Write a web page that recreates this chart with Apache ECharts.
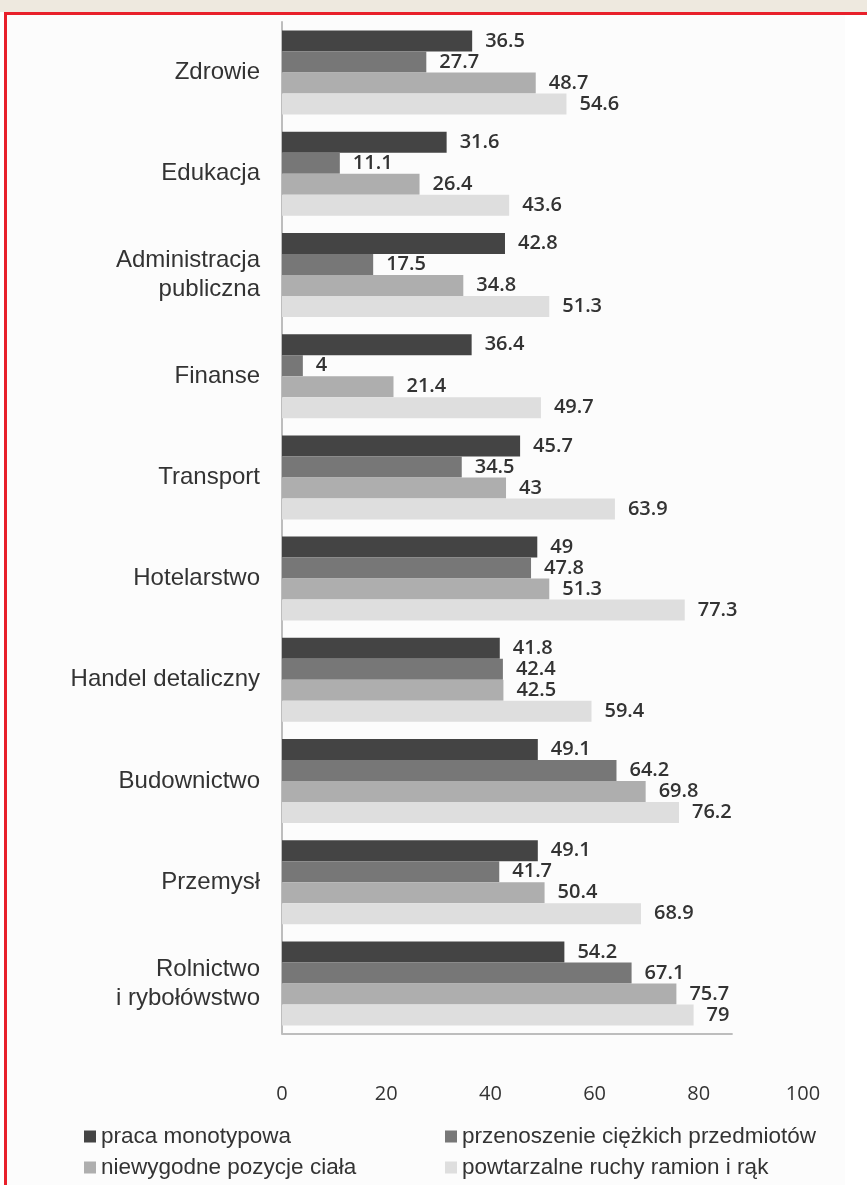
<!DOCTYPE html>
<html>
<head>
<meta charset="utf-8">
<script src="https://cdn.jsdelivr.net/npm/echarts@6/dist/echarts.min.js"></script>
<style>
  html, body { margin:0; padding:0; background:#ffffff; }
  #wrap { position:relative; width:867px; height:1185px; overflow:hidden; }
  #band { position:absolute; left:0; top:0; width:867px; height:12px; background:#eee9df; }
  #panel { position:absolute; left:4px; top:12px; width:841px; height:1173px; background:#fcfcfc;
           border-top:3px solid #e8202a; border-left:3px solid #e8202a; box-sizing:border-box; }
  #redtop { position:absolute; left:4px; top:12px; width:863px; height:3px; background:#e8202a; }
  #chart { position:absolute; left:0; top:0; width:867px; height:1185px; }
</style>
</head>
<body>
<div id="wrap">
  <div id="band"></div>
  <div id="panel"></div>
  <div id="redtop"></div>
  <div id="chart"></div>
</div>
<script>
const categories = ['Zdrowie', 'Edukacja', 'Administracja\npubliczna', 'Finanse', 'Transport',
  'Hotelarstwo', 'Handel detaliczny', 'Budownictwo', 'Przemysł', 'Rolnictwo\ni rybołówstwo'];
const seriesNames = ['praca monotypowa', 'przenoszenie ciężkich przedmiotów',
  'niewygodne pozycje ciała', 'powtarzalne ruchy ramion i rąk'];
const pracaMonotypowa = [36.5, 31.6, 42.8, 36.4, 45.7, 49, 41.8, 49.1, 49.1, 54.2];
const przenoszenie = [27.7, 11.1, 17.5, 4, 34.5, 47.8, 42.4, 64.2, 41.7, 67.1];
const niewygodne = [48.7, 26.4, 34.8, 21.4, 43, 51.3, 42.5, 69.8, 50.4, 75.7];
const powtarzalne = [54.6, 43.6, 51.3, 49.7, 63.9, 77.3, 59.4, 76.2, 68.9, 79];
const xTicks = [0, 20, 40, 60, 80, 100];
const axisLineEnd = 86.5;

const colors = ['#444444', '#777777', '#aeaeae', '#dedede'];
const values = [pracaMonotypowa, przenoszenie, niewygodne, powtarzalne];

const chart = echarts.init(document.getElementById('chart'), null, { renderer: 'canvas' });

const series = values.map((v, i) => ({
  name: seriesNames[i],
  type: 'bar',
  data: v,
  barGap: '0%',
  barCategoryGap: '17%',
  itemStyle: { color: colors[i] },
  label: {
    show: true,
    position: 'right',
    distance: 13,
    color: '#333333',
    fontFamily: 'Open Sans',
    fontWeight: 600,
    fontSize: 20
  }
}));

const option = {
  animation: false,
  backgroundColor: 'transparent',
  color: colors,
  grid: { left: 282, right: 64, top: 22, bottom: 151, containLabel: false },
  xAxis: {
    type: 'value',
    min: xTicks[0],
    max: xTicks[xTicks.length - 1],
    interval: 20,
    axisLine: { show: false },
    axisTick: { show: false },
    splitLine: { show: false },
    axisLabel: {
      margin: 50,
      color: '#333333',
      fontFamily: 'Open Sans',
      fontSize: 20
    }
  },
  yAxis: {
    type: 'category',
    data: categories,
    inverse: true,
    axisLine: { show: true, lineStyle: { color: '#bdbdbd', width: 2 } },
    axisTick: { show: false },
    axisLabel: {
      margin: 22,
      color: '#333333',
      fontFamily: 'Liberation Sans',
      fontSize: 24,
      lineHeight: 29,
      align: 'right'
    }
  },
  legend: [
    {
      data: [seriesNames[0], seriesNames[2]],
      orient: 'vertical',
      left: 79, top: 1120,
      icon: 'rect', itemWidth: 12, itemHeight: 12, itemGap: 8,
      textStyle: { color: '#333333', fontFamily: 'Liberation Sans', fontSize: 22.5 }
    },
    {
      data: [seriesNames[1], seriesNames[3]],
      orient: 'vertical',
      left: 440, top: 1120,
      icon: 'rect', itemWidth: 12, itemHeight: 12, itemGap: 8,
      textStyle: { color: '#333333', fontFamily: 'Liberation Sans', fontSize: 22.5 }
    }
  ],
  series: series
};
chart.setOption(option);

// bottom axis line (stops short of the last tick, as in the reference)
const p0 = chart.convertToPixel({ gridIndex: 0 }, [0, categories[categories.length - 1]]);
const p1 = chart.convertToPixel({ gridIndex: 0 }, [axisLineEnd, categories[categories.length - 1]]);
const bottomY = 1185 - 151;
chart.setOption({
  graphic: [{
    type: 'line',
    shape: { x1: p0[0], y1: bottomY, x2: p1[0], y2: bottomY },
    style: { stroke: '#bdbdbd', lineWidth: 2 },
    z: 10
  }]
});
</script>
</body>
</html>
